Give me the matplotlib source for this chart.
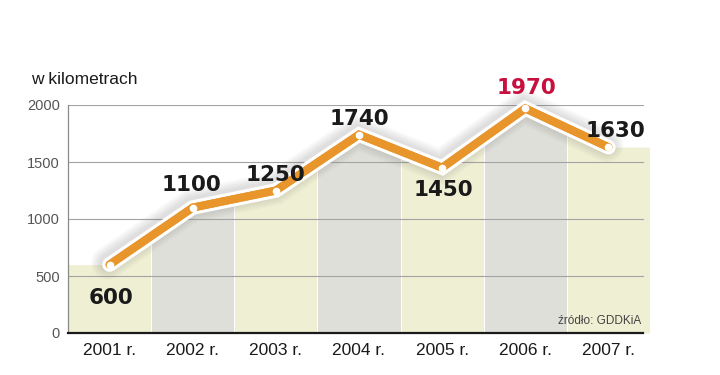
import matplotlib
matplotlib.use('Agg')
from matplotlib import pyplot as plt
from matplotlib import patheffects as pe
from matplotlib.patches import Rectangle

years = ['2001 r.', '2002 r.', '2003 r.', '2004 r.', '2005 r.', '2006 r.', '2007 r.']
km = [600, 1100, 1250, 1740, 1450, 1970, 1630]
yticks = [0, 500, 1000, 1500, 2000]

# label offsets in points (dx, dy) relative to each point
offsets = [(1, -24), (-1, 16), (0, 11), (0, 11), (1, -16), (1, 15), (5, 12)]

YELLOW = '#efefd3'
GREY = '#dfdfd9'
ORANGE = '#e8952b'
RED = '#c8103f'


def main():
    fig = plt.figure(figsize=(7.2, 3.75), dpi=100)
    ax = fig.add_axes([68 / 720, 42 / 375, 582 / 720, 228 / 375])

    x = list(range(len(years)))
    n = len(years)

    # area under the line, split into alternating columns
    fx = [-0.5] + x + [n - 0.5]
    fy = [km[0]] + km + [km[-1]]
    for i in x:
        col = YELLOW if i % 2 == 0 else GREY
        poly = ax.fill_between(fx, 0, fy, color=col, lw=0, zorder=1)
        clip = Rectangle((i - 0.5 + 0.012, 0), 0.976, 2500,
                         transform=ax.transData)
        poly.set_clip_path(clip)

    for v in yticks[1:]:
        ax.axhline(v, xmax=0.988, color='#a3a3a3', lw=0.8, zorder=2)
    ax.axhline(0, xmax=0.988, color='#1a1a1a', lw=1.6, zorder=3, clip_on=False)

    # soft glow under the white casing
    line_fx = []
    for w in [24, 22, 20, 18, 16, 14, 12.5]:
        line_fx.append(pe.SimpleLineShadow(offset=(-1.2, 1.2), shadow_color='#7a7a7a',
                                           alpha=0.035, linewidth=w))
    line_fx += [pe.withStroke(linewidth=10.5, foreground='white'), pe.Normal()]
    ax.plot(x, km, color=ORANGE, lw=5.8, solid_joinstyle='miter',
            solid_capstyle='round', zorder=4, clip_on=False, path_effects=line_fx)
    ax.plot(x, km, 'o', color='white', ms=4.5, zorder=5, clip_on=False)

    for i, v in enumerate(km):
        c = RED if v == max(km) else '#1a1a1a'
        ax.annotate(str(v), (i, v), xytext=offsets[i], textcoords='offset points',
                    ha='center', va='center', fontsize=15.5, fontweight='bold',
                    color=c, family='DejaVu Sans', zorder=6,
                    annotation_clip=False)

    ax.set_xlim(-0.5, n - 0.5)
    ax.set_ylim(0, 2000)
    ax.set_xticks(x)
    ax.set_xticklabels(years, fontsize=12.5, family='Liberation Sans', color='#1a1a1a')
    ax.set_yticks(yticks)
    ax.set_yticklabels([str(v) for v in yticks], fontsize=10.5,
                       family='Liberation Sans', color='#555555')
    ax.tick_params(axis='x', length=0, pad=7.5)
    ax.tick_params(axis='y', length=0, pad=6)

    for s in ['top', 'right', 'bottom']:
        ax.spines[s].set_visible(False)
    ax.spines['left'].set_color('#8a8a8a')
    ax.spines['left'].set_linewidth(0.9)

    fig.text(31 / 720, 1 - 80 / 375, 'w kilometrach', fontsize=12.5,
             family='Liberation Sans', color='#1a1a1a', va='center')
    fig.text(641 / 720, 1 - 321 / 375, 'źródło: GDDKiA', fontsize=8.5,
             family='Liberation Sans', color='#444444', ha='right', va='center')

    fig.savefig('out.png', dpi=100)


if __name__ == '__main__':
    main()
